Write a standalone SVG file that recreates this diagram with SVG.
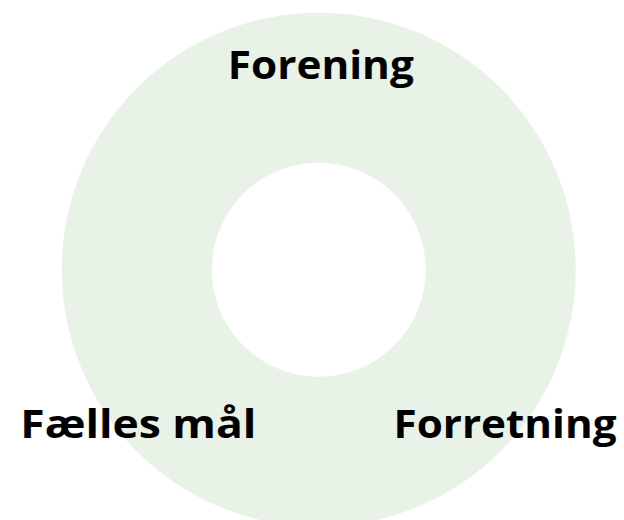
<svg xmlns="http://www.w3.org/2000/svg" width="624" height="520" viewBox="0 0 624 520">
  <style>
    .ring { fill: #E9F2E7; fill-rule: evenodd; }
    .label { font-family: "Open Sans", "Noto Sans", "Liberation Sans", sans-serif; font-weight: 700; font-size: 40px; fill: #000000; text-anchor: middle; }
  </style>
  <rect width="624" height="520" fill="#FFFFFF"/>
  <g id="ring">
    <path class="ring" d="M 61.7 269.7 A 257 257 0 1 0 575.7 269.7 A 257 257 0 1 0 61.7 269.7 Z M 211.7 269.7 A 107 107 0 1 0 425.7 269.7 A 107 107 0 1 0 211.7 269.7 Z"/>
  </g>
  <g id="forening">
    <text class="label" x="320.8" y="78.5" textLength="186" lengthAdjust="spacingAndGlyphs">Forening</text>
  </g>
  <g id="faelles-maal">
    <text class="label" x="138.3" y="437.5" textLength="236" lengthAdjust="spacingAndGlyphs">Fælles mål</text>
  </g>
  <g id="forretning">
    <text class="label" x="505" y="438" textLength="223" lengthAdjust="spacingAndGlyphs">Forretning</text>
  </g>
</svg>
